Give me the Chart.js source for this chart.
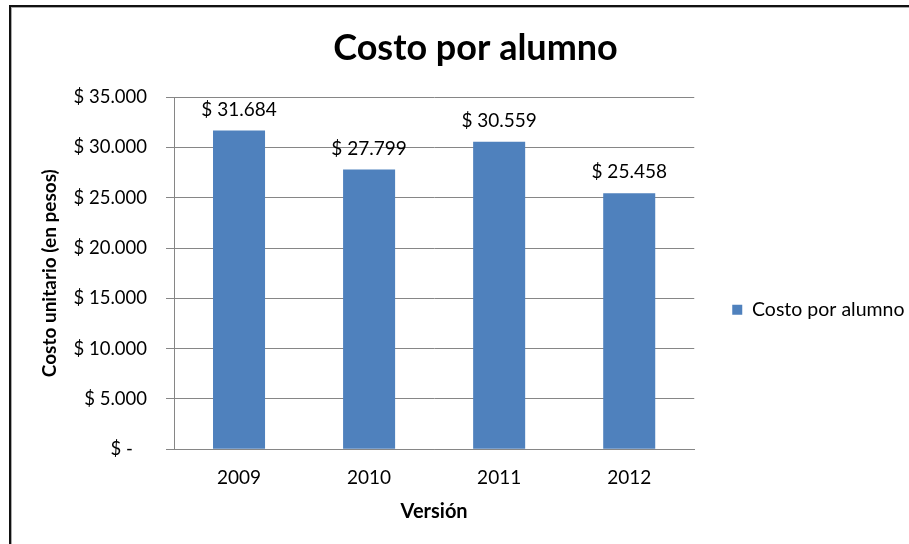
<!DOCTYPE html>
<html>
<head>
<meta charset="utf-8">
<script src="https://cdn.jsdelivr.net/npm/chart.js@4"></script>
<style>
  html, body { margin: 0; padding: 0; background: #fff; }
  #wrap { position: relative; width: 909px; height: 544px; }
  #frame { position: absolute; left: 9px; top: 5px; right: 0; bottom: 0;
           border-top: 2px solid #111; border-left: 2px solid #111;
           box-shadow: inset 0 1px 0 #aaa, inset 1px 0 0 #aaa; pointer-events: none; }
  canvas { position: absolute; left: 0; top: 0; }
</style>
</head>
<body>
<div id="wrap">
  <canvas id="chart" width="909" height="544"></canvas>
  <div id="frame"></div>
</div>
<script>
// DATA
const YEARS = ['2009', '2010', '2011', '2012'];
const COSTS = [31684, 27799, 30559, 25458];
const SERIES_NAME = 'Costo por alumno';
const Y_MAX = 35000;
const Y_STEP = 5000;

const FONT = 'Lato, "Open Sans", sans-serif';
const BAR_COLOR = '#4F81BD';

// "$ 31.684" style (accounting, dot thousands)
function money(v) {
    if (v === 0) return '$ -   ';
    return '$ ' + Math.round(v).toString().replace(/\B(?=(\d{3})+(?!\d))/g, '.');
}

// labels above the bars
const barLabels = {
    id: 'barLabels',
    afterDatasetsDraw(chart) {
        const ctx = chart.ctx;
        const meta = chart.getDatasetMeta(0);
        ctx.save();
        ctx.font = '19px ' + FONT;
        ctx.fillStyle = '#000';
        ctx.textAlign = 'center';
        ctx.textBaseline = 'middle';
        meta.data.forEach((bar, i) => {
            ctx.fillText(money(COSTS[i]), bar.x, bar.y - 21);
        });
        ctx.restore();
    }
};

new Chart(document.getElementById('chart').getContext('2d'), {
    type: 'bar',
    data: {
        labels: YEARS,
        datasets: [{
            label: SERIES_NAME,
            data: COSTS,
            backgroundColor: BAR_COLOR,
            borderWidth: 0,
            categoryPercentage: 1,
            barPercentage: 0.4
        }]
    },
    options: {
        responsive: false,
        animation: false,
        layout: { padding: { left: 38, top: 27, right: -4, bottom: 20 } },
        plugins: {
            title: {
                display: true,
                text: 'Costo por alumno',
                color: '#000',
                font: { family: FONT, size: 36, weight: 'bold' },
                padding: { top: 0, bottom: 27 }
            },
            legend: {
                position: 'right',
                fullSize: false,
                title: { display: true, text: '', padding: { top: 0, bottom: 54 }, font: { size: 16 } },
                labels: {
                    color: '#000',
                    font: { family: FONT, size: 19.5 },
                    boxWidth: 10,
                    boxHeight: 10,
                    padding: 38
                }
            },
            tooltip: { enabled: false }
        },
        scales: {
            x: {
                grid: { display: false, drawTicks: false },
                border: { color: '#868686', width: 1 },
                ticks: { color: '#000', font: { family: FONT, size: 19 }, padding: 17 },
                title: {
                    display: true, text: 'Versión', color: '#000',
                    font: { family: FONT, size: 20, weight: 'bold' },
                    padding: { top: -6, bottom: 0 }
                }
            },
            y: {
                min: 0,
                max: Y_MAX,
                afterFit(scale) { scale.width = 136; },
                grid: { color: '#868686', tickLength: 8 },
                border: { color: '#868686', width: 1 },
                ticks: {
                    stepSize: Y_STEP,
                    color: '#000',
                    font: { family: FONT, size: 18.5 },
                    padding: 19,
                    callback: v => money(v)
                },
                title: {
                    display: true, text: 'Costo unitario (en pesos)', color: '#000',
                    font: { family: FONT, size: 19, weight: 'bold' },
                    padding: 0
                }
            }
        }
    },
    plugins: [barLabels]
});
</script>
</body>
</html>
